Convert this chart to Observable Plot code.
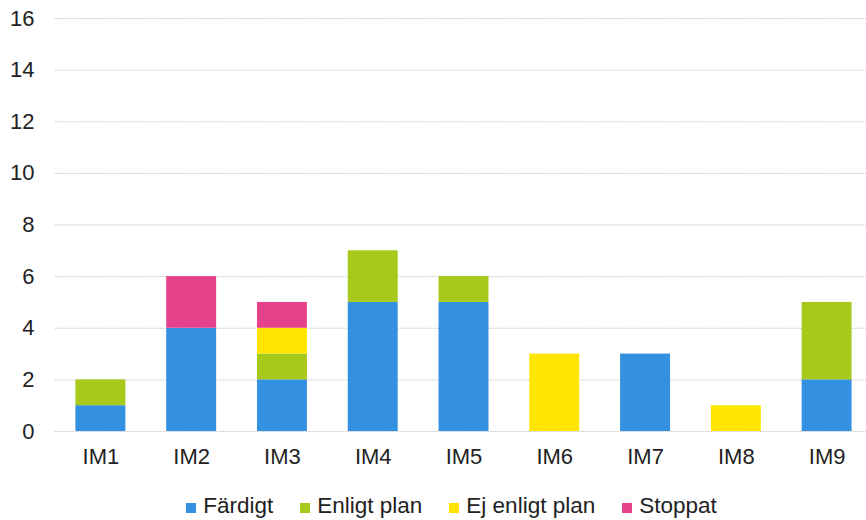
<!DOCTYPE html>
<html><head><meta charset="utf-8">
<script src="https://cdn.jsdelivr.net/npm/d3@7"></script>
<script src="https://cdn.jsdelivr.net/npm/@observablehq/plot@0.6"></script>
<style>
body{margin:0;background:#fff;font-family:"Liberation Sans",Arial,sans-serif;}
#legend{display:flex;justify-content:center;gap:27px;font-size:22.5px;color:#222;padding-left:37px;margin-top:18px;}
#legend span.item{display:flex;align-items:center;}
#legend span.sw{width:10px;height:10px;display:inline-block;margin-right:7px;margin-top:3px;}
</style></head>
<body><div id="chart"></div><div id="legend"></div>
<script>
const categories = ["IM1","IM2","IM3","IM4","IM5","IM6","IM7","IM8","IM9"];
const seriesNames = ["Färdigt","Enligt plan","Ej enligt plan","Stoppat"];
const fardigt     = [1,4,2,5,5,0,3,0,2];
const enligtPlan  = [1,0,1,2,1,0,0,0,3];
const ejEnligt    = [0,0,1,0,0,3,0,1,0];
const stoppat     = [0,2,1,0,0,0,0,0,0];
const yTicks = [0,2,4,6,8,10,12,14,16];
const colors = ["#3490e0","#a6c91c","#ffe500","#e6428c"];

const seriesValues = [fardigt, enligtPlan, ejEnligt, stoppat];
const data = [];
seriesNames.forEach((s, si) => categories.forEach((c, ci) => {
  data.push({cat: c, series: s, value: seriesValues[si][ci]});
}));

const plot = Plot.plot({
  width: 866, height: 475,
  marginLeft: 55, marginRight: 0, marginTop: 18, marginBottom: 44,
  style: {fontFamily: '"Liberation Sans", Arial, sans-serif', fontSize: "22px", color: "#222"},
  x: {domain: categories, paddingInner: 0.45, paddingOuter: 0.225, range: [55, 872], round: false, label: null},
  y: {domain: [0,16], ticks: yTicks, label: null},
  color: {domain: seriesNames, range: colors},
  marks: [
    Plot.ruleY(yTicks, {stroke: "#c8c8c8", strokeWidth: 1, strokeDasharray: "1.5,1"}),
    Plot.barY(data, Plot.stackY({x: "cat", y: "value", fill: "series", order: seriesNames})),
    Plot.axisX({tickSize: 0, tickPadding: 17, fontSize: 22}),
    Plot.axisY({ticks: yTicks, tickSize: 0, tickPadding: 21, fontSize: 22})
  ]
});
document.getElementById("chart").appendChild(plot);

const lg = document.getElementById("legend");
seriesNames.forEach((s, i) => {
  const it = document.createElement("span"); it.className = "item";
  const sw = document.createElement("span"); sw.className = "sw"; sw.style.background = colors[i];
  it.appendChild(sw); it.appendChild(document.createTextNode(s));
  lg.appendChild(it);
});
</script></body></html>
